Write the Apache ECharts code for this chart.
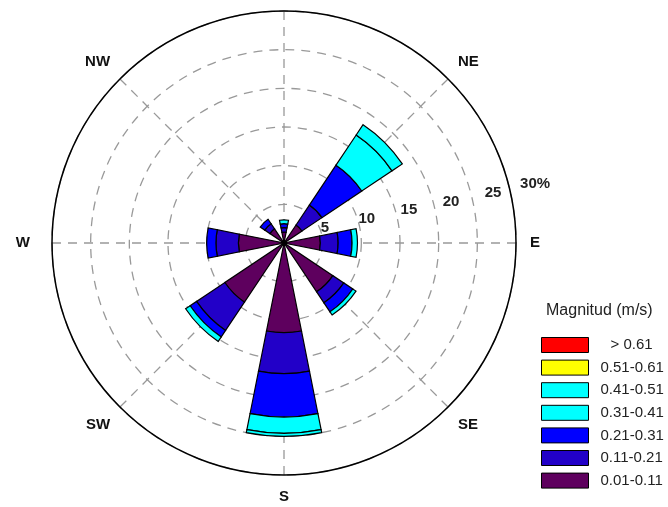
<!DOCTYPE html>
<html>
<head>
<meta charset="utf-8">
<script src="https://cdn.jsdelivr.net/npm/echarts@6/dist/echarts.min.js"></script>
<style>
  html, body { margin: 0; padding: 0; background: #fff; }
  #chart { width: 668px; height: 507px; }
</style>
</head>
<body>
<div id="chart"></div>
<script>
// Wind directions (8 sectors, clockwise from north)
const directions = ['N', 'NE', 'E', 'SE', 'S', 'SW', 'W', 'NW'];

// Frequency (%) contributed by each speed class, per direction
const class_001_011 = [1.4, 2.8, 4.7, 7.6, 11.6, 9.2, 5.9, 2.2];
const class_011_021 = [0.6, 3.1, 2.3, 1.7, 5.3, 4.4, 2.9, 0.8];
const class_021_031 = [0.5, 6.2, 1.8, 1.4, 5.6, 1.0, 1.2, 0.7];
const class_031_041 = [0.5, 4.7, 0.7, 0.5, 2.1, 0.7, 0, 0];
const class_041_051 = [0, 1.6, 0, 0, 0.4, 0, 0, 0];
const class_051_061 = [0, 0, 0, 0, 0, 0, 0, 0];
const class_061_up  = [0, 0, 0, 0, 0, 0, 0, 0];

const classNames = ['0.01-0.11', '0.11-0.21', '0.21-0.31', '0.31-0.41', '0.41-0.51', '0.51-0.61', '> 0.61'];
const classValues = [class_001_011, class_011_021, class_021_031, class_031_041, class_041_051, class_051_061, class_061_up];
const classColors = ['#5e005e', '#2200c8', '#0000ff', '#00ffff', '#00ffff', '#ffff00', '#ff0000'];

// Radial scale (%)
const radiusTicks = [5, 10, 15, 20, 25, 30];
const radiusMax = 30;

const CENTER = [284, 243];
const R = 232;
const FONT = 'Liberation Sans, Arial, sans-serif';

const chart = echarts.init(document.getElementById('chart'), null, { renderer: 'canvas' });

const series = classNames.map((name, i) => ({
  name: name,
  type: 'bar',
  coordinateSystem: 'polar',
  polarIndex: 0,
  stack: 'rose',
  barWidth: '50%',
  data: classValues[i].map(v => (v > 0 ? v : '-')),
  itemStyle: { color: classColors[i], borderColor: '#000', borderWidth: 1.2 },
  emphasis: { disabled: true },
  z: 3
}));

const option = {
  animation: false,
  backgroundColor: '#ffffff',
  title: {
    text: 'Magnitud (m/s)',
    left: 546,
    top: 303,
    padding: 0,
    textStyle: { fontFamily: FONT, fontSize: 16, fontWeight: 'normal', color: '#222' }
  },
  legend: {
    orient: 'vertical',
    left: 541,
    top: 337,
    padding: 0,
    itemWidth: 47,
    itemHeight: 15,
    itemGap: 6.6,
    icon: 'rect',
    data: classNames.slice().reverse().map(n => (n === '> 0.61'
      ? { name: n, textStyle: { padding: [0, 0, 0, 17] } }
      : { name: n })),
    itemStyle: { borderColor: '#000', borderWidth: 1 },
    textStyle: { fontFamily: FONT, fontSize: 15, color: '#222', padding: [0, 0, 0, 7] },
    selectedMode: false
  },
  polar: [
    { center: CENTER, radius: R },   // bars + direction labels
    { center: CENTER, radius: R },   // dashed grid + outer ring
    { center: CENTER, radius: 258 }  // radial scale labels
  ],
  angleAxis: [
    {
      polarIndex: 0,
      type: 'category',
      data: directions,
      startAngle: 90 + 22.5,
      clockwise: true,
      boundaryGap: true,
      axisLine: { show: false },
      axisTick: { show: false },
      splitLine: { show: false },
      axisLabel: {
        margin: 14,
        fontFamily: FONT,
        fontSize: 15,
        fontWeight: 'bold',
        color: '#111',
        formatter: v => (v === 'N' ? '' : (v === 'W' ? '{w|W}' : v)),
        rich: {
          w: { fontFamily: FONT, fontSize: 15, fontWeight: 'bold', color: '#111', padding: [0, 8, 0, 0] }
        }
      }
    },
    {
      polarIndex: 1,
      type: 'value',
      min: 0,
      max: 360,
      interval: 45,
      startAngle: 90,
      clockwise: true,
      axisLine: { show: true, lineStyle: { color: '#000', width: 1.5 } },
      axisTick: { show: false },
      axisLabel: { show: false },
      splitLine: { show: true, lineStyle: { color: '#999', width: 1.3, type: [9, 7] } }
    },
    {
      polarIndex: 2,
      type: 'value',
      min: 0,
      max: 360,
      startAngle: 12,
      show: false
    }
  ],
  radiusAxis: [
    {
      polarIndex: 0,
      min: 0,
      max: radiusMax,
      show: false
    },
    {
      polarIndex: 1,
      type: 'value',
      min: 0,
      max: radiusMax,
      interval: 5,
      axisLine: { show: false },
      axisTick: { show: false },
      axisLabel: { show: false },
      splitLine: { show: true, lineStyle: { color: '#999', width: 1.3, type: [9, 7] } }
    },
    {
      polarIndex: 2,
      type: 'value',
      min: 0,
      max: radiusMax,
      interval: 5,
      axisLine: { show: false },
      axisTick: { show: false },
      splitLine: { show: false },
      axisLabel: {
        showMinLabel: false,
        margin: 6,
        align: 'center',
        verticalAlign: 'middle',
        fontFamily: FONT,
        fontSize: 15,
        fontWeight: 'bold',
        color: '#222',
        formatter: v => (radiusTicks.indexOf(v) < 0 ? '' : (v === radiusMax ? v + '%' : String(v)))
      }
    }
  ],
  series: series
};

chart.setOption(option);
</script>
</body>
</html>
